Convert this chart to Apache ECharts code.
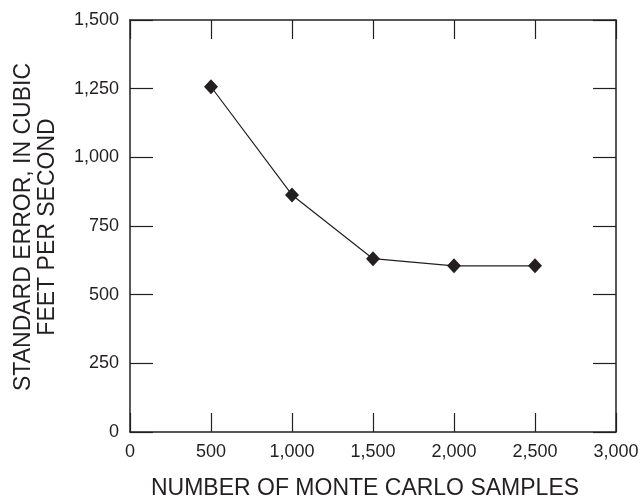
<!DOCTYPE html>
<html>
<head>
<meta charset="utf-8">
<script src="https://cdn.jsdelivr.net/npm/echarts@6/dist/echarts.min.js"></script>
<style>
  html, body { margin: 0; padding: 0; background: #fff; }
  #chart { width: 644px; height: 500px; }
</style>
</head>
<body>
<div id="chart"></div>
<script>
// Standard error of the estimate versus the number of Monte Carlo samples
const sampleCounts = [500, 1000, 1500, 2000, 2500];
const standardError = [1257, 863, 631, 605, 605];
const xTicks = [0, 500, 1000, 1500, 2000, 2500, 3000];
const yTicks = [0, 250, 500, 750, 1000, 1250, 1500];

const ink = '#231f20';
const font = '"Liberation Sans", Arial, Helvetica, sans-serif';
const fmt = v => v.toLocaleString('en-US');

const chart = echarts.init(document.getElementById('chart'), null, { renderer: 'canvas' });

const baseAxis = {
  axisLine: { show: true, onZero: false, lineStyle: { color: ink, width: 1.5 } },
  splitLine: { show: false },
  axisTick: { show: true, inside: true, lineStyle: { color: ink, width: 1.2 } }
};

chart.setOption({
  backgroundColor: '#fff',
  animation: false,
  grid: { left: 130, right: 28, top: 20, bottom: 68 },
  xAxis: [
    Object.assign({}, baseAxis, {
      type: 'value', position: 'bottom',
      min: xTicks[0], max: xTicks[xTicks.length - 1], interval: 500,
      axisTick: Object.assign({}, baseAxis.axisTick, { length: 19 }),
      axisLabel: { color: ink, fontFamily: font, fontSize: 18, margin: 11, formatter: fmt }
    }),
    Object.assign({}, baseAxis, {
      type: 'value', position: 'top',
      min: xTicks[0], max: xTicks[xTicks.length - 1], interval: 500,
      axisTick: Object.assign({}, baseAxis.axisTick, { length: 19 }),
      axisLabel: { show: false }
    })
  ],
  yAxis: [
    Object.assign({}, baseAxis, {
      type: 'value', position: 'left',
      min: yTicks[0], max: yTicks[yTicks.length - 1], interval: 250,
      axisTick: Object.assign({}, baseAxis.axisTick, { length: 23 }),
      axisLabel: { color: ink, fontFamily: font, fontSize: 18, margin: 11, formatter: fmt }
    }),
    Object.assign({}, baseAxis, {
      type: 'value', position: 'right',
      min: yTicks[0], max: yTicks[yTicks.length - 1], interval: 250,
      axisTick: Object.assign({}, baseAxis.axisTick, { length: 23 }),
      axisLabel: { show: false }
    })
  ],
  series: [{
    type: 'line',
    xAxisIndex: 0,
    yAxisIndex: 0,
    data: sampleCounts.map((x, i) => [x, standardError[i]]),
    symbol: 'diamond',
    symbolSize: [14, 15],
    lineStyle: { color: ink, width: 1.2 },
    itemStyle: { color: ink, borderWidth: 0 }
  }],
  graphic: [
    {
      type: 'text',
      x: 365, y: 489,
      style: {
        text: 'NUMBER OF MONTE CARLO SAMPLES',
        fill: ink, font: '23px ' + font,
        textAlign: 'center', textVerticalAlign: 'middle'
      }
    },
    {
      type: 'text',
      x: 36, y: 227,
      rotation: Math.PI / 2,
      style: {
        text: 'STANDARD ERROR, IN CUBIC\nFEET PER SECOND',
        fill: ink, font: '23px ' + font, lineHeight: 24,
        textAlign: 'center', textVerticalAlign: 'middle'
      }
    }
  ]
});
</script>
</body>
</html>
